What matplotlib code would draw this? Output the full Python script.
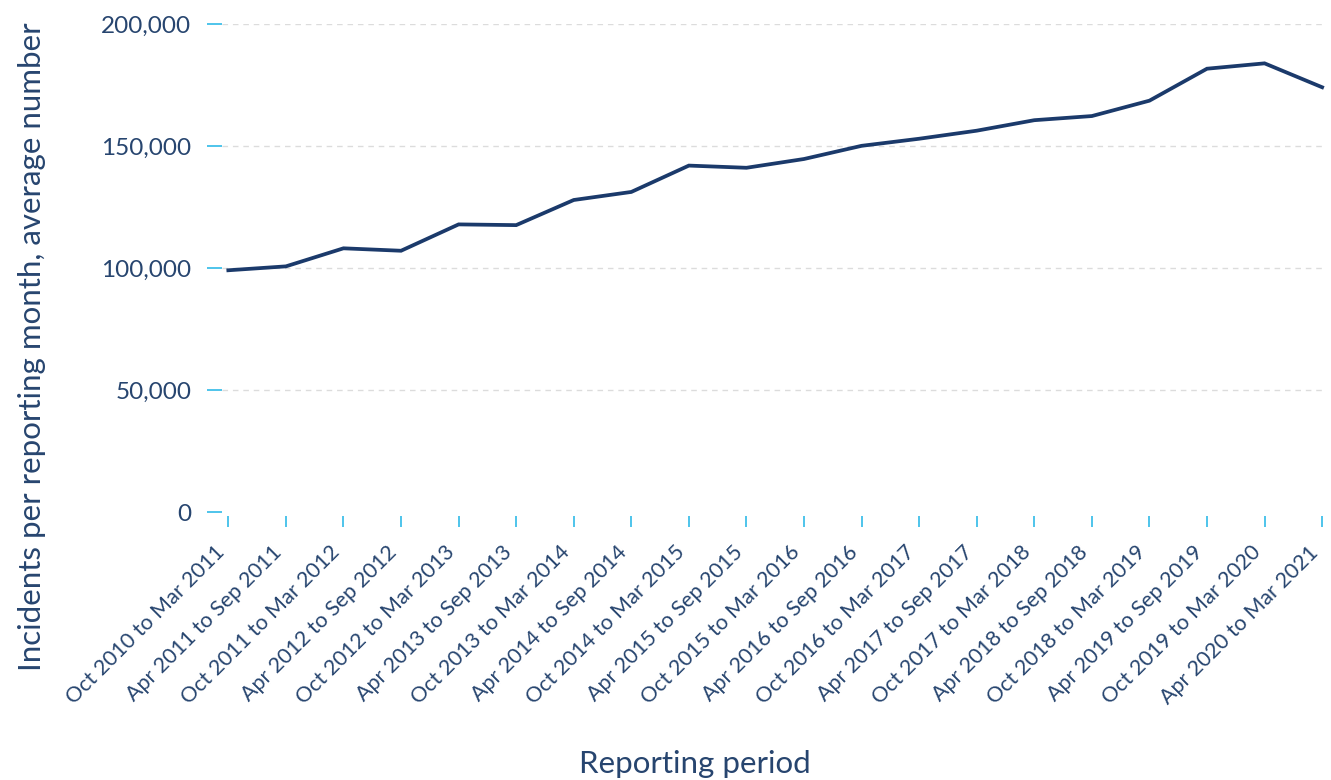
import matplotlib.pyplot as plt

periods = [
  "Oct 2010 to Mar 2011", "Apr 2011 to Sep 2011", "Oct 2011 to Mar 2012",
  "Apr 2012 to Sep 2012", "Oct 2012 to Mar 2013", "Apr 2013 to Sep 2013",
  "Oct 2013 to Mar 2014", "Apr 2014 to Sep 2014", "Oct 2014 to Mar 2015",
  "Apr 2015 to Sep 2015", "Oct 2015 to Mar 2016", "Apr 2016 to Sep 2016",
  "Oct 2016 to Mar 2017", "Apr 2017 to Sep 2017", "Oct 2017 to Mar 2018",
  "Apr 2018 to Sep 2018", "Oct 2018 to Mar 2019", "Apr 2019 to Sep 2019",
  "Oct 2019 to Mar 2020", "Apr 2020 to Mar 2021",
]
incidents = [
  99200, 100800, 108200, 107200, 118000, 117700, 128000, 131300, 142100, 141200,
  144800, 150200, 153100, 156400, 160700, 162400, 168700, 181800, 184000, 174200,
]
y_ticks = [0, 50000, 100000, 150000, 200000]

navy = '#1B3A6B'
text_col = '#27456F'
tick_blue = '#1EB4E6'

plt.rcParams['font.family'] = ['Lato', 'DejaVu Sans']

fig = plt.figure(figsize=(13.31, 7.80), dpi=100)
ax = fig.add_axes([222/1331, 1-516/780, 1103/1331, (516-24.3)/780])

x = list(range(len(periods)))
ax.plot(x, incidents, color=navy, linewidth=2.7, solid_joinstyle='miter')

ax.set_xlim(-0.11, 19.05)
ax.set_ylim(-1500, 200000)

ax.set_yticks(y_ticks)
ax.set_yticklabels([f"{v:,}" for v in y_ticks], color=text_col, fontsize=17.5)
ax.set_xticks(x)
ax.set_xticklabels(periods, rotation=45, ha='right', va='bottom', rotation_mode='anchor',
                   color=text_col, fontsize=15.5)

ax.tick_params(axis='y', length=11, width=1.1, color=tick_blue, pad=11)
ax.tick_params(axis='x', length=8, width=1.1, color=tick_blue, pad=21)

ax.grid(axis='y', color='#DCDCDC', linestyle=(0, (4, 3.5)), linewidth=1)
ax.yaxis.get_gridlines()[0].set_visible(False)
ax.set_axisbelow(True)

for s in ax.spines.values():
  s.set_visible(False)

ax.set_ylabel("Incidents per reporting month, average number", color=text_col,
              fontsize=22.5)
ax.yaxis.set_label_coords(-0.160, 0.345)
fig.text(0.522, 1-773/780, "Reporting period", color=text_col, fontsize=22.5,
         ha='center', va='baseline')

fig.savefig('out.png', dpi=100)
